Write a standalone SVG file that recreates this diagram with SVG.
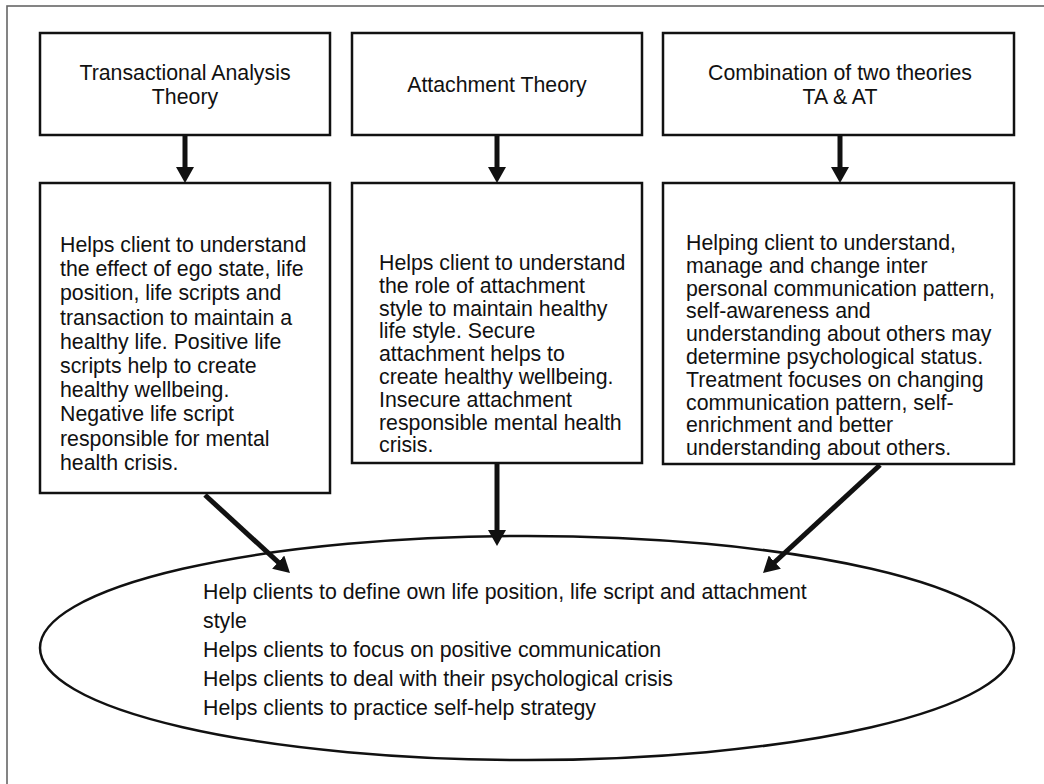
<svg xmlns="http://www.w3.org/2000/svg" width="1044" height="784" viewBox="0 0 1044 784">
<defs>
<style>
.box{fill:#fff;stroke:#111;stroke-width:2.5}
.t{font-family:"Liberation Sans",Arial,sans-serif;font-size:21.3px;fill:#111}
.c{text-anchor:middle}
.arr{stroke:#111;stroke-width:5;fill:none}
</style>
<marker id="ah" viewBox="0 0 16 18" refX="8" refY="9" markerWidth="16" markerHeight="18" markerUnits="userSpaceOnUse" orient="auto">
<path d="M0,0 L16,9 L0,18 z" fill="#111"/>
</marker>
</defs>
<rect width="1044" height="784" fill="#fff"/>
<rect x="7" y="6" width="1100" height="900" fill="none" stroke="#666" stroke-width="1.6"/>

<g id="ta-head">
<rect class="box" x="40" y="33" width="290" height="102"/>
<text class="t c" x="185" y="80">Transactional Analysis</text>
<text class="t c" x="185" y="104">Theory</text>
</g>
<g id="at-head">
<rect class="box" x="352" y="33" width="290" height="102"/>
<text class="t c" x="497" y="92">Attachment Theory</text>
</g>
<g id="combo-head">
<rect class="box" x="663" y="33" width="351" height="102"/>
<text class="t c" x="840" y="80">Combination of two theories</text>
<text class="t c" x="840" y="104">TA &amp; AT</text>
</g>

<g id="ta-body">
<rect class="box" x="40" y="183" width="290" height="310"/>
<text class="t" x="60" y="252">
<tspan x="60" dy="0">Helps client to understand</tspan>
<tspan x="60" dy="24.2">the effect of ego state, life</tspan>
<tspan x="60" dy="24.2">position, life scripts and</tspan>
<tspan x="60" dy="24.2">transaction to maintain a</tspan>
<tspan x="60" dy="24.2">healthy life. Positive life</tspan>
<tspan x="60" dy="24.2">scripts help to create</tspan>
<tspan x="60" dy="24.2">healthy wellbeing.</tspan>
<tspan x="60" dy="24.2">Negative life script</tspan>
<tspan x="60" dy="24.2">responsible for mental</tspan>
<tspan x="60" dy="24.2">health crisis.</tspan>
</text>
</g>
<g id="at-body">
<rect class="box" x="352" y="183" width="290" height="280"/>
<text class="t" x="379" y="270">
<tspan x="379" dy="0">Helps client to understand</tspan>
<tspan x="379" dy="22.8">the role of attachment</tspan>
<tspan x="379" dy="22.8">style to maintain healthy</tspan>
<tspan x="379" dy="22.8">life style. Secure</tspan>
<tspan x="379" dy="22.8">attachment helps to</tspan>
<tspan x="379" dy="22.8">create healthy wellbeing.</tspan>
<tspan x="379" dy="22.8">Insecure attachment</tspan>
<tspan x="379" dy="22.8">responsible mental health</tspan>
<tspan x="379" dy="22.8">crisis.</tspan>
</text>
</g>
<g id="combo-body">
<rect class="box" x="663" y="183" width="351" height="281"/>
<text class="t" x="686" y="250">
<tspan x="686" dy="0">Helping client to understand,</tspan>
<tspan x="686" dy="22.8">manage and change inter</tspan>
<tspan x="686" dy="22.8">personal communication pattern,</tspan>
<tspan x="686" dy="22.8">self-awareness and</tspan>
<tspan x="686" dy="22.8">understanding about others may</tspan>
<tspan x="686" dy="22.8">determine psychological status.</tspan>
<tspan x="686" dy="22.8">Treatment focuses on changing</tspan>
<tspan x="686" dy="22.8">communication pattern, self-</tspan>
<tspan x="686" dy="22.8">enrichment and better</tspan>
<tspan x="686" dy="22.8">understanding about others.</tspan>
</text>
</g>

<g id="outcome">
<ellipse cx="527" cy="648" rx="487" ry="112" fill="#fff" stroke="#111" stroke-width="2.5"/>
<text class="t" x="203" y="599">
<tspan x="203" dy="0">Help clients to define own life position, life script and attachment</tspan>
<tspan x="203" dy="29">style</tspan>
<tspan x="203" dy="29">Helps clients to focus on positive communication</tspan>
<tspan x="203" dy="29">Helps clients to deal with their psychological crisis</tspan>
<tspan x="203" dy="29">Helps clients to practice self-help strategy</tspan>
</text>
</g>

<g id="connectors">
<line class="arr" x1="185" y1="135" x2="185" y2="175" marker-end="url(#ah)"/>
<line class="arr" x1="497" y1="135" x2="497" y2="175" marker-end="url(#ah)"/>
<line class="arr" x1="840" y1="135" x2="840" y2="175" marker-end="url(#ah)"/>
<line class="arr" x1="205" y1="495" x2="284.1" y2="567.6" marker-end="url(#ah)"/>
<line class="arr" x1="497" y1="464" x2="497" y2="538" marker-end="url(#ah)"/>
<line class="arr" x1="880" y1="465" x2="768.9" y2="567.5" marker-end="url(#ah)"/>
</g>
</svg>
